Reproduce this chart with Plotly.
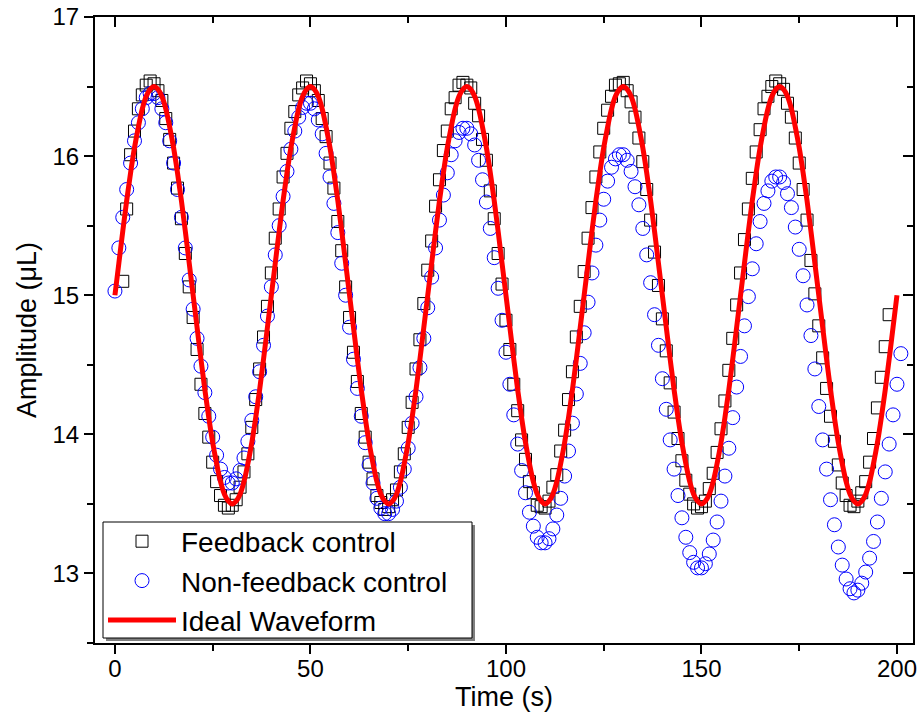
import plotly.graph_objects as go

# ---------------- data ----------------
FB_T0 = 2  # first feedback sample time (s)
feedback = [
    15.10, 15.62, 16.01, 16.18, 16.34, 16.44, 16.51, 16.54, 16.52, 16.47,
    16.40, 16.27, 16.12, 15.95, 15.77, 15.55, 15.30, 15.06, 14.84, 14.61,
    14.36, 14.15, 13.98, 13.80, 13.66, 13.56, 13.49, 13.47, 13.49, 13.53,
    13.62, 13.73, 13.86, 14.05, 14.25, 14.47, 14.70, 14.92,
    15.16, 15.41, 15.62, 15.85, 16.02, 16.20, 16.32, 16.44, 16.49, 16.54,
    16.52, 16.47, 16.40, 16.27, 16.14, 15.95, 15.77, 15.53, 15.32, 15.06,
    14.84, 14.59, 14.38, 14.15, 13.98, 13.80, 13.68, 13.56, 13.51, 13.46,
    13.48, 13.53, 13.60, 13.73, 13.86, 14.05, 14.23, 14.47, 14.68, 14.94,
    15.18, 15.39, 15.64, 15.83, 16.04, 16.18, 16.34, 16.42, 16.51, 16.53,
    16.51, 16.49, 16.38, 16.29, 16.12, 15.97, 15.75, 15.55, 15.30, 15.08,
    14.82, 14.61, 14.36, 14.17, 13.96, 13.82, 13.66, 13.58, 13.49, 13.48,
    13.47, 13.52, 13.62, 13.71, 13.88, 14.03, 14.25, 14.45, 14.70, 14.92,
    15.17, 15.41, 15.63, 15.85, 16.03, 16.20, 16.33, 16.43, 16.51, 16.52,
    16.53, 16.47, 16.39, 16.28, 16.13, 15.96, 15.76, 15.54, 15.31, 15.07,
    14.83, 14.60, 14.37, 14.16, 13.97, 13.81, 13.67, 13.57, 13.50, 13.47,
    13.48, 13.52, 13.61, 13.72, 13.87, 14.04, 14.24, 14.46, 14.69, 14.93,
    15.16, 15.40, 15.62, 15.84, 16.03, 16.19, 16.34, 16.43, 16.50, 16.54,
    16.52, 16.48, 16.38, 16.28, 16.13, 15.95, 15.76, 15.54, 15.25, 15.01,
    14.78, 14.55, 14.33, 14.13, 13.95, 13.78, 13.65, 13.56, 13.49, 13.48,
    13.52, 13.58, 13.66, 13.80, 13.97, 14.19, 14.41, 14.63, 14.86,
]

NF_T0 = 0
non_feedback = [
    15.03, 15.34, 15.56, 15.76, 15.95, 16.11, 16.24, 16.34, 16.42, 16.45,
    16.45, 16.42, 16.34, 16.24, 16.11, 15.95, 15.76, 15.56, 15.34, 15.11,
    14.90, 14.69, 14.49, 14.30, 14.13, 13.98, 13.85, 13.75, 13.69, 13.65,
    13.65, 13.68, 13.74, 13.83, 13.95, 14.10, 14.27, 14.45, 14.64, 14.85,
    15.06, 15.29, 15.50, 15.71, 15.89, 16.05, 16.18, 16.28, 16.35, 16.38,
    16.38, 16.34, 16.26, 16.16, 16.02, 15.85, 15.66, 15.45, 15.23, 15.00,
    14.77, 14.54, 14.33, 14.13, 13.94, 13.78, 13.65, 13.54, 13.47, 13.43,
    13.43, 13.46, 13.52, 13.62, 13.75, 13.90, 14.08, 14.27, 14.48, 14.69,
    14.91, 15.13, 15.34, 15.54, 15.72, 15.88, 16.01, 16.11, 16.17, 16.20,
    16.20, 16.16, 16.08, 15.97, 15.83, 15.67, 15.48, 15.27, 15.05, 14.82,
    14.59, 14.36, 14.14, 13.93, 13.74, 13.58, 13.44, 13.34, 13.26, 13.22,
    13.22, 13.25, 13.32, 13.42, 13.54, 13.70, 13.88, 14.08, 14.29, 14.51,
    14.73, 14.95, 15.16, 15.36, 15.54, 15.69, 15.82, 15.92, 15.98, 16.01,
    16.01, 15.97, 15.89, 15.78, 15.65, 15.48, 15.29, 15.09, 14.86, 14.64,
    14.40, 14.18, 13.96, 13.75, 13.56, 13.40, 13.26, 13.15, 13.08, 13.04,
    13.04, 13.07, 13.14, 13.24, 13.37, 13.52, 13.70, 13.90, 14.12, 14.34,
    14.56, 14.78, 14.99, 15.19, 15.37, 15.53, 15.66, 15.75, 15.82, 15.85,
    15.85, 15.81, 15.73, 15.63, 15.49, 15.33, 15.14, 14.93, 14.71, 14.47,
    14.20, 13.96, 13.75, 13.53, 13.35, 13.19, 13.06, 12.96, 12.89, 12.86,
    12.88, 12.93, 13.01, 13.11, 13.23, 13.37, 13.54, 13.73, 13.93, 14.14,
    14.36, 14.58,
]

IDEAL_T0 = 0
ideal = [
    15.00, 15.23, 15.46, 15.68, 15.88, 16.06, 16.21, 16.34, 16.43, 16.48,
    16.50, 16.48, 16.43, 16.34, 16.21, 16.06, 15.88, 15.68, 15.46, 15.23,
    15.00, 14.77, 14.54, 14.32, 14.12, 13.94, 13.79, 13.66, 13.57, 13.52,
    13.50, 13.52, 13.57, 13.66, 13.79, 13.94, 14.12, 14.32, 14.54, 14.77,
    15.00, 15.23, 15.46, 15.68, 15.88, 16.06, 16.21, 16.34, 16.43, 16.48,
    16.50, 16.48, 16.43, 16.34, 16.21, 16.06, 15.88, 15.68, 15.46, 15.23,
    15.00, 14.77, 14.54, 14.32, 14.12, 13.94, 13.79, 13.66, 13.57, 13.52,
    13.50, 13.52, 13.57, 13.66, 13.79, 13.94, 14.12, 14.32, 14.54, 14.77,
    15.00, 15.23, 15.46, 15.68, 15.88, 16.06, 16.21, 16.34, 16.43, 16.48,
    16.50, 16.48, 16.43, 16.34, 16.21, 16.06, 15.88, 15.68, 15.46, 15.23,
    15.00, 14.77, 14.54, 14.32, 14.12, 13.94, 13.79, 13.66, 13.57, 13.52,
    13.50, 13.52, 13.57, 13.66, 13.79, 13.94, 14.12, 14.32, 14.54, 14.77,
    15.00, 15.23, 15.46, 15.68, 15.88, 16.06, 16.21, 16.34, 16.43, 16.48,
    16.50, 16.48, 16.43, 16.34, 16.21, 16.06, 15.88, 15.68, 15.46, 15.23,
    15.00, 14.77, 14.54, 14.32, 14.12, 13.94, 13.79, 13.66, 13.57, 13.52,
    13.50, 13.52, 13.57, 13.66, 13.79, 13.94, 14.12, 14.32, 14.54, 14.77,
    15.00, 15.23, 15.46, 15.68, 15.88, 16.06, 16.21, 16.34, 16.43, 16.48,
    16.50, 16.48, 16.43, 16.34, 16.21, 16.06, 15.88, 15.68, 15.46, 15.23,
    15.00, 14.77, 14.54, 14.32, 14.12, 13.94, 13.79, 13.66, 13.57, 13.52,
    13.50, 13.52, 13.57, 13.66, 13.79, 13.94, 14.12, 14.32, 14.54, 14.77,
    15.00,
]

x_ticks = [0, 50, 100, 150, 200]
y_ticks = [13, 14, 15, 16, 17]
series_names = ["Feedback control", "Non-feedback control", "Ideal Waveform"]

fb_t = list(range(FB_T0, FB_T0 + len(feedback)))
nf_t = list(range(NF_T0, NF_T0 + len(non_feedback)))
id_t = list(range(IDEAL_T0, IDEAL_T0 + len(ideal)))

FONT = "Arial, Liberation Sans, sans-serif"
XR = [-5.1, 204.1]
YR = [12.5, 17.0]
W, H = 918, 721
ML, MR, MT, MB = 95, 5, 17, 78
PW, PH = W - ML - MR, H - MT - MB


def px_x(p):  # pixel column -> paper x
    return (p - ML) / PW


def px_y(p):  # pixel row -> paper y
    return (H - MB - p) / PH


fig = go.Figure()
fig.add_trace(go.Scatter(
    x=fb_t, y=feedback, mode="markers", name=series_names[0],
    marker=dict(symbol="square-open", size=12, color="black",
                line=dict(width=1, color="black")),
))
fig.add_trace(go.Scatter(
    x=nf_t, y=non_feedback, mode="markers", name=series_names[1],
    marker=dict(symbol="circle-open", size=14, color="#0000ff",
                line=dict(width=1, color="#0000ff")),
))
fig.add_trace(go.Scatter(
    x=id_t, y=ideal, mode="lines", name=series_names[2],
    line=dict(color="#ff0000", width=5, shape="spline"),
))
# dummy trace to activate the mirrored (top/right) axes
fig.add_trace(go.Scatter(x=[None], y=[None], xaxis="x2", yaxis="y2",
                         showlegend=False, hoverinfo="skip"))

axis_common = dict(showgrid=False, zeroline=False, showline=True,
                   linecolor="black", linewidth=2, automargin=False)

# legend frame: grey drop shadow + white box with thin black border
fig.add_shape(type="rect", xref="paper", yref="paper", layer="above",
              x0=px_x(106), x1=px_x(475), y0=px_y(641), y1=px_y(525),
              fillcolor="#808080", line=dict(width=0))
fig.add_shape(type="rect", xref="paper", yref="paper", layer="above",
              x0=px_x(103), x1=px_x(472), y0=px_y(638), y1=px_y(522),
              fillcolor="white", line=dict(width=1, color="black"))

fig.update_layout(
    width=W, height=H,
    margin=dict(l=ML, r=MR, t=MT, b=MB),
    paper_bgcolor="white", plot_bgcolor="white",
    font=dict(family=FONT, color="black"),
    showlegend=True,
    xaxis=dict(
        **axis_common, range=XR, tickvals=x_ticks,
        ticks="outside", ticklen=9, tickwidth=2, tickcolor="black",
        tickfont=dict(size=24, family=FONT), ticklabelstandoff=-6,
        minor=dict(dtick=25, tick0=0, ticks="outside", ticklen=6,
                   tickwidth=2, tickcolor="black"),
        title=dict(text="Time (s)", font=dict(size=27, family=FONT), standoff=0),
    ),
    yaxis=dict(
        **axis_common, range=YR, tickvals=y_ticks,
        ticks="outside", ticklen=9, tickwidth=2, tickcolor="black",
        tickfont=dict(size=24, family=FONT),
        minor=dict(dtick=0.5, tick0=13, ticks="outside", ticklen=6,
                   tickwidth=2, tickcolor="black"),
        title=dict(text="Amplitude (μL)", font=dict(size=27, family=FONT), standoff=8),
    ),
    xaxis2=dict(
        **axis_common, range=XR, overlaying="x", side="top", anchor="y",
        tickvals=x_ticks, ticks="inside", ticklen=10, tickwidth=2,
        tickcolor="black", showticklabels=False,
        minor=dict(dtick=25, tick0=0, ticks="inside", ticklen=6,
                   tickwidth=2, tickcolor="black"),
    ),
    yaxis2=dict(
        **axis_common, range=YR, overlaying="y", side="right", anchor="x",
        tickvals=y_ticks, ticks="inside", ticklen=10, tickwidth=2,
        tickcolor="black", showticklabels=False,
        minor=dict(dtick=0.5, tick0=13, ticks="inside", ticklen=6,
                   tickwidth=2, tickcolor="black"),
    ),
    legend=dict(
        x=px_x(103), y=px_y(581), xanchor="left", yanchor="middle",
        bgcolor="rgba(0,0,0,0)", borderwidth=0,
        font=dict(size=28, family=FONT), itemwidth=68,
        tracegroupgap=0,
    ),
)

fig.write_html("out.html",
               config={"displayModeBar": False},
               post_script="document.body.style.margin='0';")
